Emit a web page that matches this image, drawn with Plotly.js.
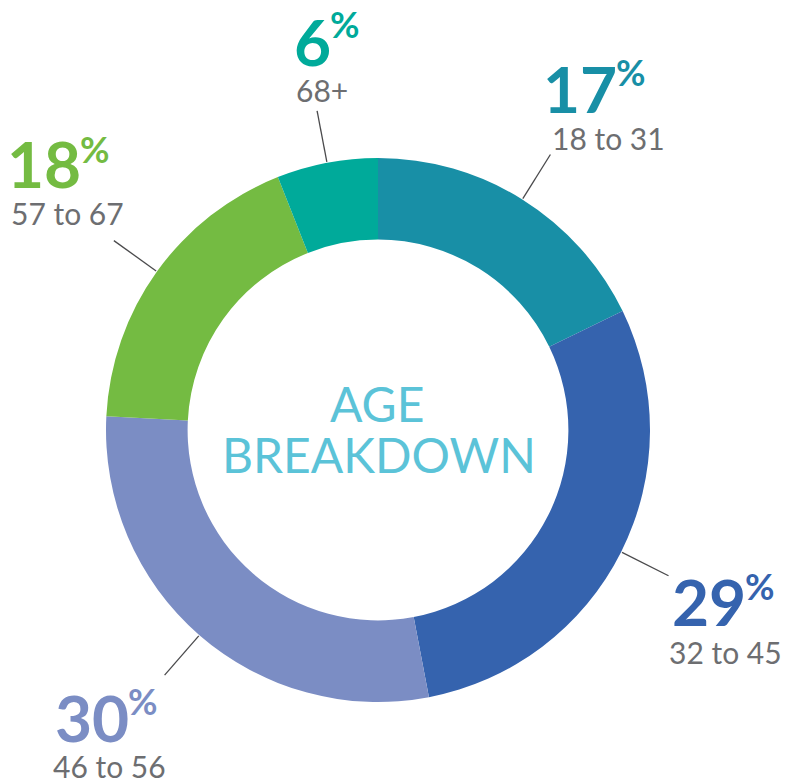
<!DOCTYPE html>
<html>
<head>
<meta charset="utf-8">
<script src="https://cdn.plot.ly/plotly-3.0.1.min.js"></script>
<style>html,body{margin:0;padding:0;background:#fff;}#chart{width:799px;height:780px;}</style>
</head>
<body>
<div id="chart"></div>
<script>
// ---- data ----
var ageGroups = ["18 to 31", "32 to 45", "46 to 56", "57 to 67", "68+"];
var shares = [17.8, 29.2, 28.8, 18.2, 6.0];          // slice sizes as drawn
var shareLabels = ["17", "29", "30", "18", "6"];     // printed percentages
var sliceColors = ["#188fa6", "#3563ae", "#7b8dc4", "#74bb42", "#00aa9a"];
var centerTitle = ["AGE", "BREAKDOWN"];

// ---- layout constants (pixels) ----
var W = 799, H = 780;
var cx = 378, cy = 430, R = 272;
function px(x){ return x / W; }
function py(y){ return 1 - y / H; }

// label block anchors: number right edge, number cap-centre y, sub-label left, sub-label centre y, percent centre y
var labelPos = [
  {nr: 618, ny: 88,  sl: 551, sy: 137.5, pcy: 71.5},
  {nr: 747, ny: 601.5, sl: 668, sy: 651.5, pcy: 586},
  {nr: 130, ny: 717, sl: 52,  sy: 765.5, pcy: 701},
  {nr: 82,  ny: 163.5, sl: 10, sy: 213, pcy: 148.5},
  {nr: 332, ny: 41,  sl: 295, sy: 89.5, pcy: 23.5}
];

var annotations = [];
var shapes = [];
var total = shares.reduce(function(a,b){return a+b;}, 0);
var cum = 0;
for (var i = 0; i < shares.length; i++) {
  var mid = (cum + shares[i] / 2) / total * 2 * Math.PI;
  cum += shares[i];
  var r0 = R + 1, r1 = R + 53;
  shapes.push({
    type: "line", xref: "paper", yref: "paper",
    x0: px(cx + r0 * Math.sin(mid)), y0: py(cy - r0 * Math.cos(mid)),
    x1: px(cx + r1 * Math.sin(mid)), y1: py(cy - r1 * Math.cos(mid)),
    line: {color: "#4a4a4c", width: 1.3}
  });
  var p = labelPos[i];
  annotations.push({
    xref: "paper", yref: "paper", x: px(p.nr), y: py(p.ny),
    xanchor: "right", yanchor: "middle", showarrow: false, borderpad: 0,
    text: shareLabels[i],
    font: {family: "Lato, 'Open Sans', sans-serif", size: 64, color: sliceColors[i], weight: 700}
  });
  annotations.push({
    xref: "paper", yref: "paper", x: px(p.nr - 3), y: py(p.pcy),
    xanchor: "left", yanchor: "middle", showarrow: false, borderpad: 0,
    text: "%",
    font: {family: "Lato, 'Open Sans', sans-serif", size: 36, color: sliceColors[i], weight: 700}
  });
  annotations.push({
    xref: "paper", yref: "paper", x: px(p.sl), y: py(p.sy),
    xanchor: "left", yanchor: "middle", showarrow: false, borderpad: 0,
    text: ageGroups[i],
    font: {family: "Lato, 'Open Sans', sans-serif", size: 30, color: "#6d6e71"}
  });
}
annotations.push({
  xref: "paper", yref: "paper", x: px(377), y: py(403),
  xanchor: "center", yanchor: "middle", showarrow: false, borderpad: 0,
  text: centerTitle[0],
  font: {family: "Lato, 'Open Sans', sans-serif", size: 48, color: "#5bc3d8"}
});
annotations.push({
  xref: "paper", yref: "paper", x: px(379), y: py(454),
  xanchor: "center", yanchor: "middle", showarrow: false, borderpad: 0,
  text: centerTitle[1],
  font: {family: "Lato, 'Open Sans', sans-serif", size: 48, color: "#5bc3d8"}
});

var trace = {
  type: "pie",
  values: shares,
  labels: ageGroups,
  sort: false,
  direction: "clockwise",
  rotation: 0,
  hole: 0.70,
  textinfo: "none",
  hoverinfo: "label+value",
  marker: {colors: sliceColors, line: {width: 0}},
  domain: {x: [px(cx - R), px(cx + R)], y: [py(cy + R), py(cy - R)]},
  showlegend: false
};

var layout = {
  width: W, height: H,
  margin: {l: 0, r: 0, t: 0, b: 0},
  paper_bgcolor: "#ffffff",
  plot_bgcolor: "#ffffff",
  showlegend: false,
  annotations: annotations,
  shapes: shapes
};

Plotly.newPlot("chart", [trace], layout, {displayModeBar: false, staticPlot: true});
</script>
</body>
</html>
